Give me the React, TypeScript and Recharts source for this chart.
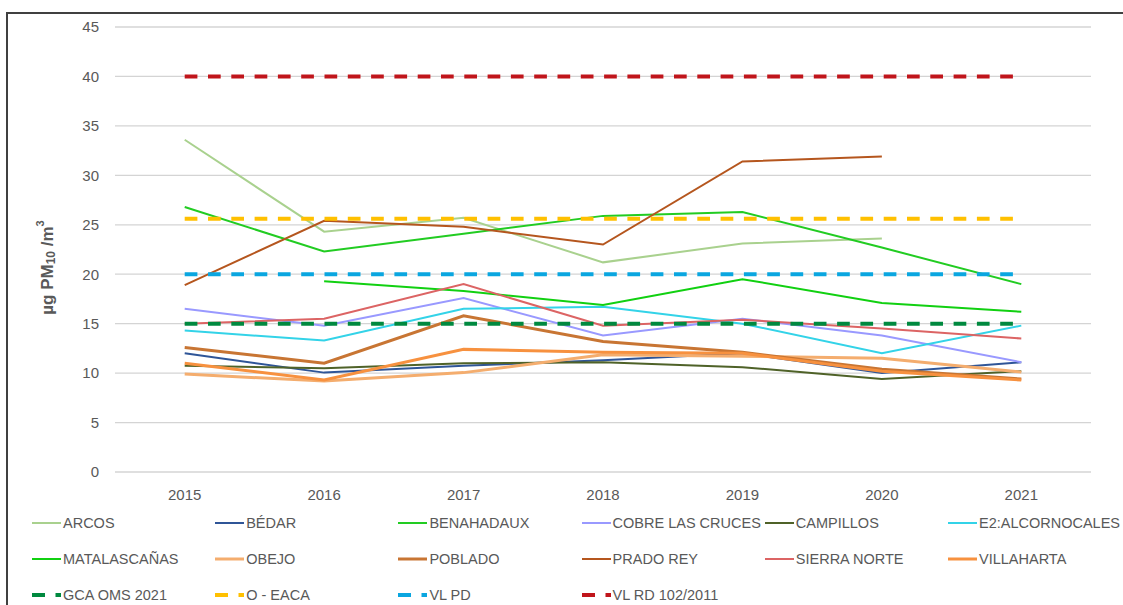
import React from "react";
import { LineChart, Line, XAxis, YAxis, CartesianGrid } from "recharts";

const years = ["2015", "2016", "2017", "2018", "2019", "2020", "2021"];
const yTicks = [0, 5, 10, 15, 20, 25, 30, 35, 40, 45];

const arcos = [33.6, 24.3, 25.7, 21.2, 23.1, 23.6, null];
const bedar = [12.0, 10.05, 10.75, 11.3, 12.0, 10.0, 11.1];
const benahadaux = [26.8, 22.3, 24.1, 25.9, 26.3, 22.7, 19.0];
const cobre = [16.5, 14.8, 17.6, 13.8, 15.5, 13.8, 11.1];
const campillos = [10.75, 10.5, 11.0, 11.1, 10.6, 9.4, 10.2];
const alcornocales = [14.3, 13.3, 16.5, 16.7, 15.0, 12.0, 14.8];
const matalascanas = [null, 19.3, 18.3, 16.9, 19.5, 17.1, 16.2];
const obejo = [9.9, 9.2, 10.05, 11.85, 11.7, 11.5, 10.1];
const poblado = [12.6, 11.0, 15.8, 13.2, 12.1, 10.4, 9.4];
const pradoRey = [18.9, 25.4, 24.8, 23.0, 31.4, 31.9, null];
const sierraNorte = [15.0, 15.5, 19.0, 14.8, 15.4, 14.5, 13.5];
const villaharta = [11.0, 9.3, 12.4, 12.1, 12.0, 10.2, 9.3];
const gcaOms = [15, 15, 15, 15, 15, 15, 15];
const oEaca = [25.6, 25.6, 25.6, 25.6, 25.6, 25.6, 25.6];
const vlPd = [20, 20, 20, 20, 20, 20, 20];
const vlRd = [40, 40, 40, 40, 40, 40, 40];

type Series = { key: string; values: (number | null)[]; color: string; width: number; dashed?: boolean };

const series: Series[] = [
  { key: "ARCOS", values: arcos, color: "#A9D18E", width: 2 },
  { key: "BÉDAR", values: bedar, color: "#2F5597", width: 2 },
  { key: "BENAHADAUX", values: benahadaux, color: "#22CC22", width: 2 },
  { key: "COBRE LAS CRUCES", values: cobre, color: "#9999FF", width: 2 },
  { key: "CAMPILLOS", values: campillos, color: "#4F6228", width: 2 },
  { key: "E2:ALCORNOCALES", values: alcornocales, color: "#33D3E8", width: 2 },
  { key: "MATALASCAÑAS", values: matalascanas, color: "#11D011", width: 2 },
  { key: "OBEJO", values: obejo, color: "#F4AD6E", width: 3 },
  { key: "POBLADO", values: poblado, color: "#C87533", width: 3 },
  { key: "PRADO REY", values: pradoRey, color: "#B5561E", width: 2 },
  { key: "SIERRA NORTE", values: sierraNorte, color: "#DC6464", width: 2 },
  { key: "VILLAHARTA", values: villaharta, color: "#F7913F", width: 3 },
  { key: "GCA OMS 2021", values: gcaOms, color: "#00893F", width: 4, dashed: true },
  { key: "O - EACA", values: oEaca, color: "#FFC000", width: 4, dashed: true },
  { key: "VL PD", values: vlPd, color: "#0AA6E0", width: 4, dashed: true },
  { key: "VL RD 102/2011", values: vlRd, color: "#C0151B", width: 4, dashed: true },
];

const data = years.map((y, i) => {
  const row: Record<string, string | number | null> = { year: y };
  series.forEach((s) => {
    row[s.key] = s.values[i];
  });
  return row;
});

const FONT = "'Liberation Sans', Arial, sans-serif";
const DASH = "12.7 10.6";

const YLabel = (props: any) => {
  const vb = props.viewBox || { x: 0, y: 0, width: 0, height: 0 };
  const cx = vb.x + 47;
  const cy = vb.y + vb.height / 2 + 18;
  return (
    <text
      x={cx}
      y={cy}
      transform={`rotate(-90, ${cx}, ${cy})`}
      textAnchor="middle"
      dominantBaseline="central"
      fontFamily={FONT}
      fontWeight="bold"
      fontSize={17}
      fill="#595959"
    >
      µg PM
      <tspan dy={4} fontSize={12}>10</tspan>
      <tspan dy={-4}> /m</tspan>
      <tspan dy={-7} fontSize={11}>3</tspan>
    </text>
  );
};

export default function App() {
  return (
    <div
      style={{
        position: "absolute",
        left: 0,
        top: 0,
        width: 1123,
        height: 605,
        overflow: "hidden",
        background: "#fff",
        fontFamily: FONT,
      }}
    >
      <div
        style={{
          position: "absolute",
          left: 6,
          top: 12,
          width: 1300,
          height: 800,
          border: "2px solid #404040",
          boxSizing: "border-box",
        }}
      />
      <div style={{ position: "absolute", left: 0, top: 0 }}>
        <LineChart
          width={1123}
          height={605}
          data={data}
          margin={{ top: 27, right: 32, bottom: 0, left: 0 }}
        >
          <CartesianGrid horizontal vertical={false} stroke="#d4d4d4" strokeWidth={1.3} />
          <XAxis
            dataKey="year"
            height={133}
            axisLine={false}
            tickLine={false}
            tickSize={0}
            tickMargin={17}
            padding={{ left: 69.7, right: 69.7 }}
            tick={{ fill: "#595959", fontSize: 15, fontFamily: FONT }}
            interval={0}
          />
          <YAxis
            width={115}
            domain={[0, 45]}
            ticks={yTicks}
            interval={0}
            axisLine={false}
            tickLine={false}
            tickSize={0}
            tickMargin={16}
            tick={{ fill: "#595959", fontSize: 15, fontFamily: FONT }}
            label={<YLabel />}
          />
          {series.map((s) => (
            <Line
              key={s.key}
              type="linear"
              dataKey={s.key}
              stroke={s.color}
              strokeWidth={s.width}
              strokeDasharray={s.dashed ? DASH : undefined}
              dot={false}
              activeDot={false}
              isAnimationActive={false}
              connectNulls={false}
            />
          ))}
        </LineChart>
      </div>
      {series.map((s, i) => {
        const col = i % 6;
        const row = Math.floor(i / 6);
        const left = 32 + col * 183.2;
        const top = 523 + row * 36;
        return (
          <div
            key={s.key}
            style={{
              position: "absolute",
              left,
              top: top - 10,
              height: 20,
              display: "flex",
              alignItems: "center",
              whiteSpace: "nowrap",
              fontSize: 14.5,
              color: "#595959",
              fontFamily: FONT,
            }}
          >
            <svg width={31} height={20} style={{ display: "block" }}>
              <line
                x1={0}
                y1={10}
                x2={29}
                y2={10}
                stroke={s.color}
                strokeWidth={s.dashed ? 4 : s.width}
                strokeDasharray={s.dashed ? "13 10.5" : undefined}
              />
            </svg>
            <span>{s.key}</span>
          </div>
        );
      })}
    </div>
  );
}
